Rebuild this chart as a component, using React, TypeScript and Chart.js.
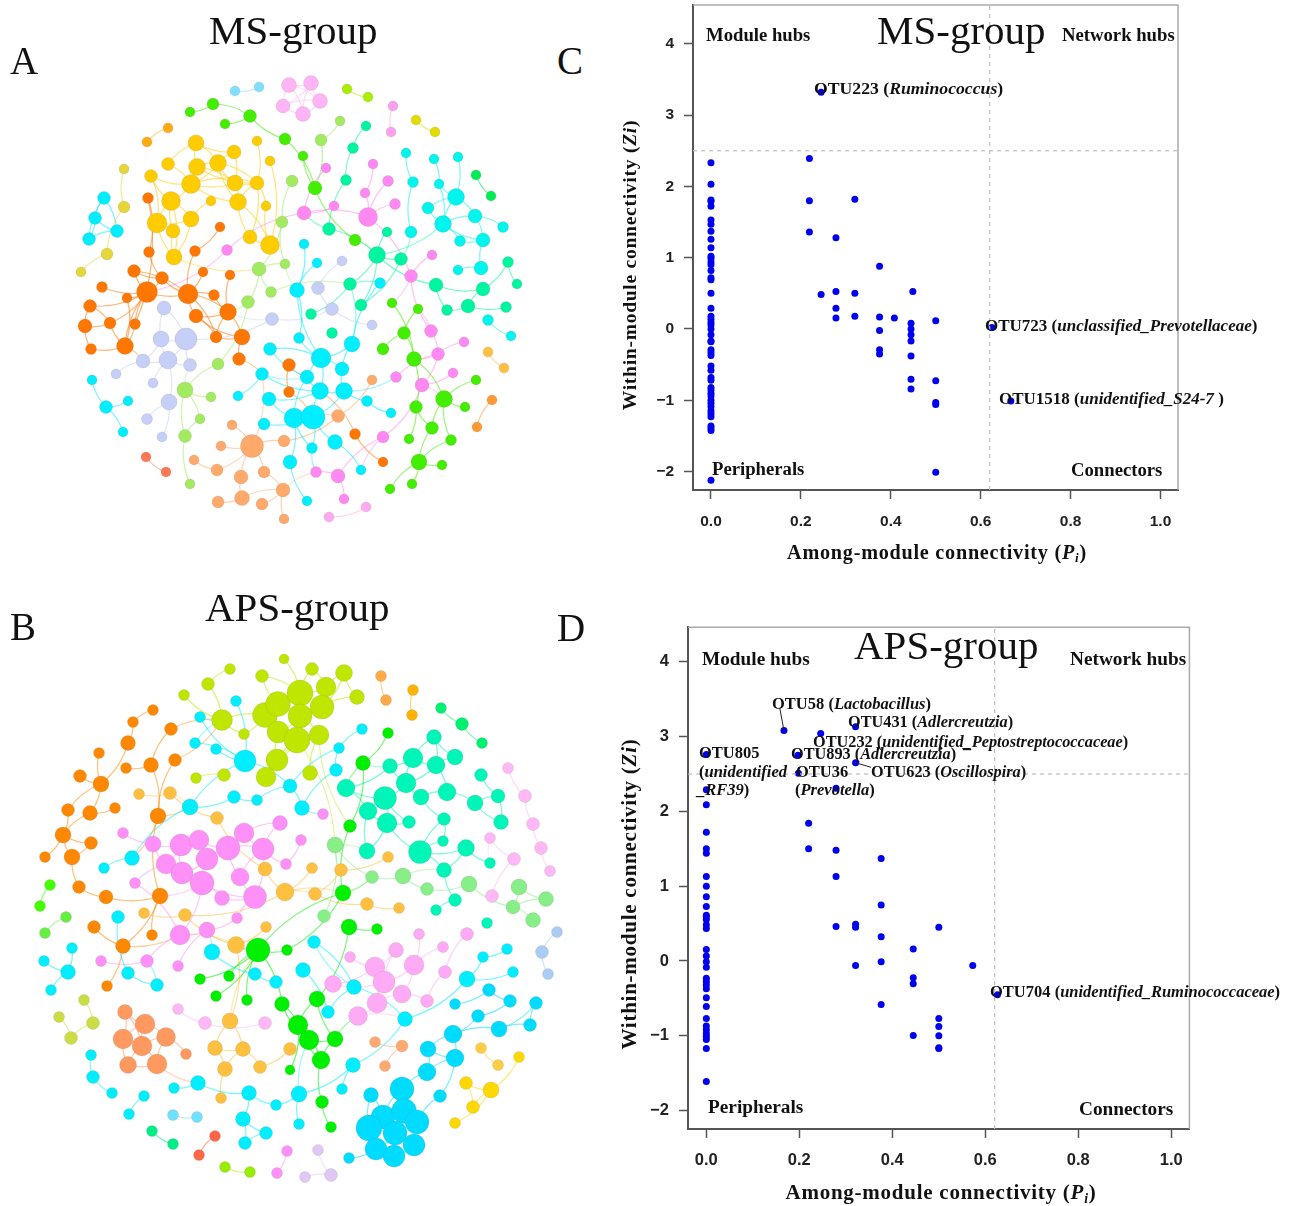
import React, { useEffect, useRef } from "react";
import { Chart, registerables } from "chart.js";
Chart.register(...registerables);

type Node = [number, number, number];
type Link = [number, number];

// ---------- Panel A (MS-group) network: layout x, layout y, node size ----------
const aGold: Node[] = [[196,143,8],[234,152,7],[257,141,5],[270,161,5],[218,163,8.5],[197,167,8.5],[168,164,6.5],[151,176,6.5],[191,184,9.5],[235,183,8],[257,183,7],[238,202,8.5],[171,201,9.5],[211,201,5],[266,206,5],[157,223,10],[191,219,8],[173,231,7],[250,237,7],[270,245,9.5],[174,257,8]];
const aGoldL: Link[] = [[0,1],[0,4],[0,5],[1,4],[1,9],[4,5],[4,8],[4,9],[4,10],[4,11],[5,8],[5,9],[8,9],[8,10],[8,11],[5,10],[6,0],[6,8],[7,8],[7,12],[7,15],[8,12],[12,15],[12,16],[12,17],[13,16],[15,16],[15,17],[15,20],[16,20],[17,20],[12,20],[9,11],[9,10],[10,11],[10,14],[10,18],[11,18],[11,19],[18,19],[14,19],[3,19],[2,10]];
const aOrange: Node[] = [[148,198,5.5],[220,227,5],[149,252,5.5],[195,251,5.5],[203,272,5],[230,275,5],[134,271,6.5],[162,278,6.5],[102,287,5.5],[147,292,10.5],[188,294,10],[214,295,5.5],[127,298,5],[90,306,6.5],[85,326,7],[110,323,6],[135,324,5.5],[91,349,5.5],[125,346,8.5],[196,316,7],[228,312,8.5],[216,337,6],[242,337,8],[239,359,6.5]];
const aOrangeL: Link[] = [[0,2],[0,16],[1,3],[2,7],[3,10],[6,9],[6,7],[6,10],[7,9],[7,10],[8,9],[12,9],[12,18],[9,18],[9,16],[9,10],[4,10],[11,10],[11,20],[5,20],[10,19],[10,20],[19,20],[19,21],[19,22],[20,22],[21,22],[21,10],[22,23],[13,14],[13,15],[14,15],[14,17],[17,18],[15,18],[16,18],[9,15],[20,21],[9,13]];
const aLav: Node[] = [[164,308,7],[161,339,8],[186,339,11],[143,361,7],[168,360,9],[190,365,6.5],[116,374,5],[153,383,5],[169,402,8],[147,419,5.5],[162,437,5],[272,319,6.5],[332,309,6.5],[372,325,5],[342,261,5],[318,288,6.5]];
const aLavL: Link[] = [[0,1],[0,2],[1,2],[1,3],[1,4],[2,4],[2,5],[3,4],[4,5],[3,6],[4,7],[4,8],[8,9],[8,10],[2,11],[11,12],[12,13],[14,15],[15,12]];
const aLime: Node[] = [[248,302,6.5],[259,269,7],[271,292,5.5],[292,181,6],[282,222,6],[285,264,5],[321,140,6],[340,121,5],[218,364,6],[185,390,8],[211,397,5],[200,419,5],[185,436,6.5],[190,484,5]];
const aLimeL: Link[] = [[0,1],[1,2],[1,4],[3,4],[4,5],[6,7],[8,9],[9,10],[9,11],[9,12],[11,12],[12,13],[0,8],[1,5]];
const aPeach: Node[] = [[252,446,11.5],[232,425,5],[221,446,5],[194,460,5],[217,470,6],[241,477,7],[264,472,6],[218,502,6],[242,498,7.5],[262,504,6],[283,490,7],[284,519,5],[284,441,6],[338,416,6.5],[372,380,5]];
const aPeachL: Link[] = [[0,1],[0,2],[0,4],[0,5],[0,6],[0,12],[3,4],[5,8],[7,8],[8,10],[9,10],[10,11],[6,10],[12,13],[13,14]];
const aCoral: Node[] = [[146,457,5],[166,472,5]];
const aCyan: Node[] = [[92,380,5],[106,407,6.5],[128,401,5],[123,432,5],[238,396,5],[262,374,6.5],[270,349,6.5],[269,399,7],[264,424,6],[299,338,5.5],[321,358,10],[352,344,8],[342,369,7],[307,377,7],[320,391,8.5],[344,391,8.5],[367,401,5.5],[391,413,5],[294,418,10],[313,417,12],[335,442,7.5],[312,448,5.5],[290,462,7],[307,501,5],[361,470,5],[297,290,7.5],[304,244,5],[317,263,5],[380,283,5.5]];
const aCyanL: Link[] = [[0,1],[1,2],[1,3],[4,5],[5,14],[6,10],[6,13],[9,10],[10,11],[10,12],[10,13],[10,14],[11,12],[12,15],[13,14],[13,18],[14,15],[14,19],[15,19],[15,16],[16,17],[18,19],[19,20],[19,21],[18,21],[18,22],[22,23],[20,24],[7,14],[7,18],[8,19],[25,26],[25,27],[25,9],[25,10],[28,11]];
const aCyanSmall: Node[] = [[104,198,6.5],[95,218,6.5],[117,231,6.5],[89,239,6.5]];
const aCyanSmallL: Link[] = [[0,1],[0,2],[1,2],[1,3],[2,3],[0,3]];
const aAqua: Node[] = [[406,153,5],[413,182,5.5],[411,232,6],[434,159,5],[458,157,5],[439,184,5],[456,197,8.5],[428,208,6],[475,216,7],[443,224,8.5],[503,227,5.5],[460,241,5.5],[483,240,7],[481,268,7],[458,270,5],[488,320,5.5],[511,336,5]];
const aAquaL: Link[] = [[0,1],[1,2],[3,5],[5,6],[4,6],[6,7],[6,8],[6,9],[8,9],[8,10],[9,11],[9,12],[5,9],[8,12],[11,12],[12,13],[13,14],[15,16],[9,7]];
const aTeal: Node[] = [[366,126,5],[353,148,5.5],[346,180,5.5],[329,229,6.5],[387,232,5],[377,255,8.5],[401,259,6.5],[350,284,6.5],[436,285,7],[483,289,7],[508,262,5.5],[517,284,5],[311,314,5.5],[361,305,6],[332,333,5.5],[447,310,5.5],[468,306,7],[506,307,5.5]];
const aTealL: Link[] = [[0,1],[1,2],[2,3],[3,5],[4,5],[5,6],[5,7],[5,8],[8,9],[9,10],[10,11],[9,16],[15,16],[16,17],[8,15],[5,13],[12,7],[13,6]];
const aPink: Node[] = [[227,250,5.5],[326,168,5],[373,164,5],[388,181,5.5],[365,193,5],[395,204,5.5],[304,213,7],[334,206,5],[368,217,9.5],[432,255,5],[411,276,6.5],[431,331,6.5],[464,342,5],[438,354,6.5],[396,377,5.5],[422,385,7],[453,373,5],[383,437,6],[338,476,7],[316,472,5.5],[344,499,5]];
const aPinkL: Link[] = [[0,6],[1,6],[6,7],[6,8],[2,4],[3,8],[4,8],[5,8],[8,10],[9,10],[10,11],[11,13],[12,13],[13,15],[13,14],[15,16],[15,17],[17,18],[18,19],[18,20]];
const aRose: Node[] = [[289,85,7.5],[311,83,7.5],[320,101,7.5],[283,106,7],[303,114,7.5]];
const aRoseL: Link[] = [[0,1],[0,2],[0,3],[0,4],[1,2],[1,3],[1,4],[2,3],[2,4],[3,4]];
const aMauve: Node[] = [[329,517,5],[366,507,5]];
const aOrchid: Node[] = [[393,106,5],[391,132,5]];
const aGreen: Node[] = [[190,112,5],[213,104,6],[225,124,5],[250,116,6.5],[285,139,6],[303,156,5],[315,188,7],[355,240,6]];
const aGreenL: Link[] = [[0,1],[1,3],[2,3],[3,4],[4,6],[5,6],[6,7]];
const aLeaf: Node[] = [[392,303,5],[418,309,5],[404,333,6.5],[383,349,6],[414,359,7.5],[476,380,5],[444,399,8.5],[465,407,5],[416,407,6.5],[432,428,6.5],[409,439,5],[451,440,5.5],[419,462,8],[442,465,5],[412,484,5],[390,489,5]];
const aLeafL: Link[] = [[0,4],[1,2],[2,3],[2,4],[4,8],[4,6],[5,6],[6,7],[6,9],[6,11],[8,9],[8,10],[9,12],[11,12],[12,13],[12,14],[12,15]];
const aBurnt: Node[] = [[289,365,6.5],[289,392,5.5],[355,434,5.5],[383,462,5]];
const aBurntL: Link[] = [[2,3],[0,1]];
const aOlive: Node[] = [[124,169,5],[124,207,6],[107,254,6],[81,272,5]];
const aSky: Node[] = [[235,91,5],[259,87,5]];
const aAmber: Node[] = [[168,128,5],[147,142,5]];
const aChart: Node[] = [[347,89,5],[368,97,5]];
const aYellow: Node[] = [[416,120,5],[435,132,5]];
const aSpring: Node[] = [[476,175,5],[491,196,5]];
const aSand: Node[] = [[488,352,5],[504,368,5]];
const aTan: Node[] = [[492,400,5],[477,427,5]];
const chain: Link[] = [[0,1],[1,2],[2,3]];
const pair: Link[] = [[0,1]];

// ---------- Panel B (APS-group) network ----------
const bLime: Node[] = [[230,669,5.5],[208,684,6.5],[184,695,5.5],[262,676,6.5],[284,659,5],[222,720,10.5],[244,734,5.5],[265,715,12.5],[278,704,12.5],[278,732,11],[277,760,11],[266,777,10],[224,775,6.5],[196,778,5.5],[312,669,6.5],[344,673,8.5],[357,697,7.5],[300,693,13],[326,687,10],[322,707,12],[300,716,12],[297,740,13],[319,735,10],[310,773,7.5]];
const bLimeL: Link[] = [[0,1],[1,5],[2,5],[3,17],[3,8],[5,7],[5,6],[6,7],[7,8],[7,9],[8,9],[8,17],[17,18],[17,19],[17,20],[18,19],[19,20],[20,21],[20,22],[21,22],[9,21],[9,10],[10,21],[10,11],[11,21],[14,17],[14,18],[15,18],[15,16],[16,19],[15,19],[22,23],[9,20],[8,20],[17,4],[12,13],[10,22]];
const bCyanA: Node[] = [[236,701,5.5],[200,717,5.5],[195,743,5.5],[216,749,5.5],[245,761,11],[234,797,6.5],[257,800,5.5],[190,807,8],[132,858,7.5],[104,868,5.5],[290,786,7],[362,729,5.5],[339,748,5.5],[336,770,6.5],[302,808,7.5]];
const bCyanAL: Link[] = [[0,4],[1,4],[2,4],[3,4],[4,7],[5,7],[5,6],[6,10],[10,14],[10,12],[11,12],[12,13],[13,14],[8,9],[7,8],[4,10]];
const bOrange: Node[] = [[153,710,5.5],[133,722,5.5],[171,729,6.5],[128,743,7.5],[99,753,5.5],[151,765,7.5],[175,760,6.5],[126,768,5.5],[80,776,6.5],[101,784,8],[68,810,6.5],[90,813,7.5],[115,808,5.5],[158,816,8],[63,835,8],[91,843,6.5],[45,857,5.5],[72,857,8],[79,887,6.5],[106,897,7],[160,896,8],[94,927,6.5],[123,946,7.5],[152,935,5.5],[107,986,5.5]];
const bOrangeL: Link[] = [[0,1],[1,3],[3,9],[4,9],[8,9],[9,10],[9,11],[10,14],[11,12],[11,14],[14,15],[14,16],[14,17],[15,17],[17,18],[18,19],[19,20],[2,5],[5,7],[5,13],[6,13],[13,20],[20,23],[21,22],[22,24],[20,22]];
const bGold: Node[] = [[139,794,5.5],[170,793,6.5],[217,818,6.5],[265,869,7],[285,892,9],[312,868,5.5],[341,870,6.5],[388,857,5.5],[315,894,6.5],[367,904,6.5],[399,908,5.5],[144,913,5.5],[185,915,6.5],[236,945,8.5],[266,927,5.5],[230,1021,8],[215,1048,7.5],[243,1049,7.5],[225,1069,7.5],[260,1067,6.5],[290,1049,6.5],[221,1098,5.5]];
const bGoldL: Link[] = [[0,1],[1,2],[3,4],[4,5],[4,8],[6,8],[6,7],[8,9],[9,10],[12,13],[13,14],[13,15],[15,16],[15,17],[16,17],[16,18],[17,18],[17,19],[18,21],[19,20],[11,12],[2,3],[4,12]];
const bPink: Node[] = [[123,833,5.5],[153,844,8],[181,845,11],[199,840,10],[166,864,10],[182,873,11],[207,859,11],[202,883,12],[228,848,12],[244,833,10],[263,849,11],[240,877,9],[255,897,11.5],[222,898,7.5],[280,823,7.5],[286,864,5.5],[135,883,5.5],[101,961,5.5],[147,961,6.5],[178,966,5.5],[180,935,10],[207,930,8],[237,918,5.5],[301,840,5.5],[323,814,5.5],[277,1173,5.5],[287,1151,5.5]];
const bPinkL: Link[] = [[0,1],[1,2],[1,4],[2,3],[2,4],[2,5],[3,6],[4,5],[5,6],[5,7],[6,7],[6,8],[3,8],[8,9],[8,10],[9,10],[8,11],[10,11],[10,12],[11,12],[7,12],[7,13],[13,12],[10,14],[10,15],[16,20],[17,18],[18,20],[20,21],[19,21],[21,22],[14,9],[23,15],[25,26],[20,7],[22,12],[16,4]];
const bRose: Node[] = [[419,934,5.5],[443,947,5.5],[467,934,6.5],[396,950,7.5],[350,957,5.5],[375,967,10],[414,965,10],[445,972,6.5],[384,982,11],[333,984,8.5],[402,994,9],[377,1003,10],[427,1001,6.5],[358,1016,9.5]];
const bRoseL: Link[] = [[0,6],[1,6],[2,7],[3,5],[3,8],[4,5],[5,8],[5,9],[6,8],[6,10],[5,11],[7,12],[8,10],[8,11],[10,11],[10,12],[11,13],[9,8]];
const bBlush: Node[] = [[508,768,5.5],[525,796,6.5],[533,824,6.5],[541,848,6.5],[550,871,5.5],[490,838,5.5],[514,859,6.5],[492,896,6.5],[178,1009,5.5],[205,1023,6.5],[265,1023,6.5]];
const bBlushL: Link[] = [[0,1],[1,2],[2,3],[3,4],[5,6],[6,7],[8,9],[9,10]];
const bTeal: Node[] = [[434,737,7.5],[455,757,8],[481,775,6.5],[413,758,10],[436,765,9],[390,766,7.5],[406,783,10],[346,788,9],[447,792,9],[421,797,8],[385,798,11.5],[498,796,7],[475,803,8],[368,811,9],[387,823,10],[409,822,6.5],[444,819,6.5],[501,822,7.5],[443,841,5.5],[466,848,8.5],[367,851,8],[420,852,11.5],[490,863,5.5],[444,870,7.5],[455,900,6.5],[436,910,5.5],[487,923,5.5]];
const bTealL: Link[] = [[0,1],[0,3],[0,4],[1,4],[3,4],[3,5],[4,6],[3,6],[5,6],[6,10],[6,9],[4,8],[8,9],[8,12],[2,11],[11,12],[11,17],[12,17],[7,10],[7,13],[10,13],[10,14],[13,14],[14,15],[10,15],[9,16],[16,18],[16,21],[18,21],[13,20],[14,20],[14,21],[19,21],[19,23],[21,23],[19,22],[23,24],[24,25],[5,7]];
const bSpring: Node[] = [[441,708,5.5],[462,724,6.5],[482,743,5.5]];
const bFern: Node[] = [[335,845,8],[372,877,6.5],[403,876,8],[427,889,6.5],[469,884,8],[519,887,8],[546,899,7.5],[513,907,7],[324,916,6.5],[533,920,7.5]];
const bFernL: Link[] = [[0,1],[1,2],[2,3],[3,4],[5,6],[5,7],[6,7],[7,9],[4,7],[0,8]];
const bGreen: Node[] = [[363,763,7.5],[388,733,5.5],[350,826,6.5],[343,893,8],[258,950,12],[287,950,5.5],[200,979,5.5],[229,976,5.5],[216,996,5.5],[247,1000,5.5],[282,1004,7.5],[349,927,8],[377,929,5.5],[317,999,8],[298,1025,10],[309,1040,10],[335,1039,8],[321,1060,9],[322,1102,6.5],[331,1127,5.5],[290,1070,5]];
const bGreenL: Link[] = [[0,1],[0,2],[2,3],[3,4],[3,5],[4,5],[4,6],[4,7],[4,8],[4,9],[4,10],[10,14],[11,12],[11,13],[13,14],[13,16],[14,15],[14,17],[15,16],[15,17],[16,17],[17,18],[18,19],[14,20],[10,15]];
const bCyanB: Node[] = [[72,948,5.5],[44,961,5.5],[68,972,7.5],[51,990,5.5],[118,917,6.5],[128,973,6.5],[157,985,6.5],[212,952,8],[255,974,6.5],[276,982,6.5],[91,1055,5.5],[93,1077,6.5],[112,1093,5.5],[144,1096,5.5],[129,1114,5.5]];
const bCyanBL: Link[] = [[0,2],[1,2],[2,3],[4,5],[5,6],[7,8],[8,9],[10,11],[11,12],[13,14]];
const bCyanC: Node[] = [[174,1088,5.5],[198,1083,7.5],[249,1093,7.5],[276,1105,5.5],[243,1119,7.5],[266,1133,6.5],[245,1143,6.5],[314,942,6.5],[303,970,7.5],[354,987,7.5],[328,1012,6.5],[405,1019,7.5],[467,979,8],[483,957,5.5],[507,949,5.5],[513,972,5.5],[353,1065,7.5],[342,1089,5.5],[299,1094,8],[299,1124,5.5]];
const bCyanCL: Link[] = [[0,1],[1,2],[2,3],[2,4],[4,5],[4,6],[5,6],[3,18],[16,18],[16,17],[16,11],[9,11],[11,12],[12,13],[13,14],[12,15],[9,10],[7,9],[8,10],[18,19]];
const bDeep: Node[] = [[489,990,6.5],[510,1001,6.5],[455,1004,5.5],[478,1016,6.5],[536,1003,6.5],[530,1025,6.5],[499,1029,8],[453,1034,9],[428,1049,8],[455,1058,9],[427,1072,9],[440,1096,6.5],[371,1095,7.5],[402,1089,12],[383,1117,12],[404,1111,12.5],[417,1122,12],[369,1128,13],[395,1133,12],[414,1145,11],[376,1149,11],[394,1156,11],[349,1158,5.5]];
const bDeepL: Link[] = [[0,1],[0,2],[1,3],[3,7],[4,6],[4,5],[5,6],[6,7],[7,8],[7,9],[8,9],[8,10],[9,10],[9,11],[11,16],[10,13],[12,14],[12,17],[13,14],[13,15],[14,15],[14,17],[14,18],[15,16],[15,18],[16,19],[17,20],[18,19],[18,20],[18,21],[20,21],[19,21],[20,22]];
const bCoral: Node[] = [[125,1012,7.5],[145,1024,10],[123,1039,10],[166,1037,9.5],[142,1046,10],[128,1065,8.5],[157,1064,10],[186,1054,5.5]];
const bCoralL: Link[] = [[0,1],[0,2],[0,4],[1,2],[1,3],[1,4],[2,4],[2,5],[3,4],[3,6],[4,5],[4,6],[5,6],[3,7]];
const bOlive: Node[] = [[84,1000,5.5],[59,1017,5.5],[93,1023,6.5],[71,1038,6.5]];
const bOliveL: Link[] = [[0,2],[2,3],[1,3]];
const bApple: Node[] = [[66,917,5.5],[45,933,5.5]];
const bNeon: Node[] = [[50,885,5.5],[40,906,5.5]];
const bPeach: Node[] = [[375,1042,5.5],[402,1046,6],[385,1066,5.5]];
const bPeachL: Link[] = [[0,1],[1,2]];
const bSand: Node[] = [[481,1048,5.5],[498,1065,5.5]];
const bYellow: Node[] = [[466,1083,6.5],[491,1090,8],[473,1107,6.5],[455,1123,5.5],[519,1057,5.5]];
const bYellowL: Link[] = [[0,1],[0,2],[1,2],[1,3],[1,4]];
const bTangerine: Node[] = [[381,676,5.5],[386,700,5.5]];
const bAmber: Node[] = [[413,690,5.5],[412,715,5.5]];
const bPeri: Node[] = [[557,932,5.5],[542,952,6.5],[548,974,5.5]];
const bLilac: Node[] = [[318,1150,5.5],[331,1175,6.5],[305,1177,5.5]];
const bLilacL: Link[] = [[0,1],[1,2]];
const bMint: Node[] = [[152,1131,5.5],[173,1144,5.5]];
const bRed: Node[] = [[215,1136,5.5],[199,1155,5.5]];
const bChart: Node[] = [[225,1167,5.5],[250,1172,5.5]];
const bSkyPair: Node[] = [[173,1115,5.5],[197,1117,5.5]];

// ---------- Panel C (MS-group) Zi-Pi ----------
const cP0 = [2.33,2.03,1.81,1.79,1.72,1.53,1.47,1.37,1.26,1.14,1.02,0.99,0.94,0.90,0.82,0.72,0.69,0.50,0.29,0.18,0.135,0.09,0.056,0,-0.08,-0.17,-0.18,-0.29,-0.33,-0.37,-0.52,-0.58,-0.68,-0.72,-0.82,-0.855,-0.90,-0.94,-1.0,-1.04,-1.09,-1.145,-1.19,-1.23,-1.36,-1.39,-1.425,-2.12];
const cPx = [0.219,0.245,0.219,0.32,0.219,0.278,0.375,0.245,0.278,0.32,0.449,0.278,0.278,0.32,0.375,0.408,0.375,0.375,0.375,0.445,0.445,0.445,0.445,0.445,0.445,0.445,0.5,0.5,0.5,0.5,0.5,0.625,0.667];
const cZy = [2.39,3.32,1.80,1.82,1.36,1.28,0.88,0.485,0.527,0.50,0.527,0.29,0.155,0.18,0.17,0.155,-0.02,-0.29,-0.35,0.08,0,-0.08,-0.17,-0.38,-0.705,-0.84,0.117,-0.725,-1.03,-1.06,-2.01,0.02,-1.01];
// ---------- Panel D (APS-group) Zi-Pi ----------
const dP0 = [2.76,2.29,2.09,1.72,1.50,1.44,1.13,1.0,0.86,0.73,0.61,0.59,0.555,0.485,0.435,0.155,0.067,-0.01,-0.085,-0.23,-0.275,-0.32,-0.37,-0.49,-0.61,-0.77,-0.87,-0.92,-0.97,-1.01,-1.05,-1.17,-1.61];
const dPx = [0.167,0.246,0.321,0.197,0.198,0.321,0.279,0.22,0.22,0.279,0.279,0.376,0.376,0.279,0.321,0.321,0.376,0.445,0.5,0.321,0.376,0.573,0.445,0.445,0.376,0.626,0.5,0.5,0.5,0.445,0.5,0.5];
const dZy = [3.08,3.04,3.13,2.75,2.51,2.65,2.31,1.84,1.50,1.48,1.13,1.37,0.75,0.46,0.49,0.45,0.325,0.16,0.45,-0.06,-0.01,-0.06,-0.225,-0.305,-0.58,-0.45,-0.77,-0.875,-1.0,-0.995,-1.16,-1.17];
const piThreshold = 0.62;
const ziThreshold = 2.5;
const leader58 = [[0.167,3.08],[0.158,3.38]];
const leader623 = [[0.321,2.65],[0.354,2.59]];
const xTickStep = 0.2;
const yTickStep = 1;

type Mod = { id: string; nodes: Node[]; links: Link[]; color: string };
type Cross = [string, number, string, number];

const modulesA: Mod[] = [
  { id: "gold", nodes: aGold, links: aGoldL, color: "#ffcc00" },
  { id: "orange", nodes: aOrange, links: aOrangeL, color: "#ff7700" },
  { id: "lav", nodes: aLav, links: aLavL, color: "#c5cff7" },
  { id: "lime", nodes: aLime, links: aLimeL, color: "#a2ea60" },
  { id: "peach", nodes: aPeach, links: aPeachL, color: "#ffaa6a" },
  { id: "coral", nodes: aCoral, links: pair, color: "#ff7755" },
  { id: "cyan", nodes: aCyan, links: aCyanL, color: "#00eeff" },
  { id: "cs", nodes: aCyanSmall, links: aCyanSmallL, color: "#00eeff" },
  { id: "aqua", nodes: aAqua, links: aAquaL, color: "#00f5ee" },
  { id: "teal", nodes: aTeal, links: aTealL, color: "#00f5a0" },
  { id: "pink", nodes: aPink, links: aPinkL, color: "#ff88f2" },
  { id: "rose", nodes: aRose, links: aRoseL, color: "#ffb4f6" },
  { id: "mauve", nodes: aMauve, links: pair, color: "#ffaaf0" },
  { id: "orchid", nodes: aOrchid, links: pair, color: "#ffa0ee" },
  { id: "green", nodes: aGreen, links: aGreenL, color: "#44ee00" },
  { id: "leaf", nodes: aLeaf, links: aLeafL, color: "#44ee00" },
  { id: "burnt", nodes: aBurnt, links: aBurntL, color: "#ff7700" },
  { id: "olive", nodes: aOlive, links: chain, color: "#e6d63a" },
  { id: "sky", nodes: aSky, links: pair, color: "#80dfff" },
  { id: "amber", nodes: aAmber, links: pair, color: "#ffaa11" },
  { id: "chart", nodes: aChart, links: pair, color: "#aaee00" },
  { id: "yellow", nodes: aYellow, links: pair, color: "#e2dc00" },
  { id: "spring", nodes: aSpring, links: pair, color: "#00ee55" },
  { id: "sand", nodes: aSand, links: pair, color: "#ffc040" },
  { id: "tan", nodes: aTan, links: pair, color: "#ff9933" },
];
const crossA: Cross[] = [
  ["pink",0,"orange",9],["gold",20,"lime",1],["lime",0,"orange",20],["lav",5,"lime",9],["orange",18,"lav",3],
  ["lime",5,"cyan",25],["teal",3,"pink",6],["teal",5,"aqua",9],["teal",7,"cyan",28],["teal",6,"aqua",2],
  ["green",7,"teal",5],["green",6,"lime",6],["teal",7,"cyan",11],["burnt",0,"cyan",13],["burnt",1,"cyan",19],
  ["burnt",2,"cyan",14],["orange",23,"cyan",5],["peach",13,"cyan",19],["peach",10,"pink",19],["peach",0,"cyan",5],
  ["pink",15,"leaf",6],["pink",11,"leaf",1],["pink",13,"leaf",4],["pink",17,"cyan",24],["pink",10,"leaf",0],
  ["cyan",21,"pink",19],["lime",2,"teal",7],["cyan",15,"pink",14],["lav",11,"orange",20],["cyan",5,"cyan",13],
];
const modulesB: Mod[] = [
  { id: "lime", nodes: bLime, links: bLimeL, color: "#bfe600" },
  { id: "cyanA", nodes: bCyanA, links: bCyanAL, color: "#00eeff" },
  { id: "orange", nodes: bOrange, links: bOrangeL, color: "#ff8800" },
  { id: "gold", nodes: bGold, links: bGoldL, color: "#ffc040" },
  { id: "pink", nodes: bPink, links: bPinkL, color: "#ff90f8" },
  { id: "rose", nodes: bRose, links: bRoseL, color: "#ffaaf5" },
  { id: "blush", nodes: bBlush, links: bBlushL, color: "#ffb8f6" },
  { id: "teal", nodes: bTeal, links: bTealL, color: "#00f5b8" },
  { id: "spring", nodes: bSpring, links: chain.slice(0, 2), color: "#00f070" },
  { id: "fern", nodes: bFern, links: bFernL, color: "#88ee88" },
  { id: "green", nodes: bGreen, links: bGreenL, color: "#00f000" },
  { id: "cyanB", nodes: bCyanB, links: bCyanBL, color: "#00eeff" },
  { id: "cyanC", nodes: bCyanC, links: bCyanCL, color: "#00eeff" },
  { id: "deep", nodes: bDeep, links: bDeepL, color: "#00dcff" },
  { id: "coral", nodes: bCoral, links: bCoralL, color: "#ff9960" },
  { id: "olive", nodes: bOlive, links: bOliveL, color: "#ccdd44" },
  { id: "apple", nodes: bApple, links: pair, color: "#66ee44" },
  { id: "neon", nodes: bNeon, links: pair, color: "#44ff00" },
  { id: "peach", nodes: bPeach, links: bPeachL, color: "#ffaa70" },
  { id: "sand", nodes: bSand, links: pair, color: "#ffcc44" },
  { id: "yellow", nodes: bYellow, links: bYellowL, color: "#ffd800" },
  { id: "tang", nodes: bTangerine, links: pair, color: "#ffaa44" },
  { id: "amber", nodes: bAmber, links: pair, color: "#ffb300" },
  { id: "peri", nodes: bPeri, links: chain.slice(0, 2), color: "#aaccf5" },
  { id: "lilac", nodes: bLilac, links: bLilacL, color: "#e0c8f5" },
  { id: "mint", nodes: bMint, links: pair, color: "#00ee88" },
  { id: "red", nodes: bRed, links: pair, color: "#ff6644" },
  { id: "chart", nodes: bChart, links: pair, color: "#99ee00" },
  { id: "skyp", nodes: bSkyPair, links: pair, color: "#70e0ff" },
];
const crossB: Cross[] = [
  ["orange",2,"lime",5],["orange",6,"lime",5],["gold",1,"cyanA",7],["orange",13,"cyanA",7],["orange",13,"cyanA",8],
  ["cyanA",1,"lime",5],["cyanA",2,"lime",5],["green",0,"teal",7],["teal",5,"green",0],["lime",22,"green",2],
  ["lime",21,"fern",0],["fern",0,"gold",6],["fern",0,"teal",20],["green",3,"fern",1],["fern",2,"teal",23],
  ["coral",6,"cyanC",1],["pink",7,"orange",20],["orange",22,"pink",20],["green",4,"gold",13],["gold",13,"pink",20],
  ["rose",13,"cyanC",11],["blush",5,"teal",22],["gold",4,"green",3],["cyanC",7,"cyanC",9],["green",16,"rose",13],
  ["cyanA",14,"pink",24],["gold",15,"green",4],["cyanB",7,"pink",21],["cyanC",18,"green",15],["cyanB",6,"pink",18],
];

const serif = "'Liberation Serif','Times New Roman',serif";
const sans = "'Liberation Sans',Arial,sans-serif";

function makeLinkPlugin(mods: Mod[], cross: Cross[]) {
  return {
    id: "curvedLinks",
    beforeDatasetsDraw(chart: any) {
      const { ctx, scales } = chart;
      const px = (n: Node) => [scales.x.getPixelForValue(n[0]), scales.y.getPixelForValue(n[1])];
      const curve = (a: Node, b: Node, sign: number, color: string) => {
        const [x1, y1] = px(a);
        const [x2, y2] = px(b);
        const mx = (x1 + x2) / 2 - (y2 - y1) * 0.16 * sign;
        const my = (y1 + y2) / 2 + (x2 - x1) * 0.16 * sign;
        ctx.strokeStyle = color;
        ctx.beginPath();
        ctx.moveTo(x1, y1);
        ctx.quadraticCurveTo(mx, my, x2, y2);
        ctx.stroke();
      };
      ctx.save();
      ctx.lineWidth = 1.2;
      const byId: Record<string, Mod> = {};
      mods.forEach((m) => (byId[m.id] = m));
      cross.forEach(([a, i, b, j], k) => {
        if (byId[a].nodes[i] && byId[b].nodes[j]) curve(byId[a].nodes[i], byId[b].nodes[j], k % 2 ? 1 : -1, byId[a].color + "66");
      });
      mods.forEach((m) =>
        m.links.forEach(([i, j]) => {
          if (m.nodes[i] && m.nodes[j]) curve(m.nodes[i], m.nodes[j], (i + j) % 2 ? 1 : -1, m.color + "88");
        })
      );
      ctx.restore();
    },
  };
}

function networkConfig(mods: Mod[], cross: Cross[], w: number, top: number, h: number): any {
  return {
    type: "bubble",
    data: {
      datasets: mods.map((m) => ({
        label: m.id,
        data: m.nodes.map(([x, y, r]) => ({ x, y, r })),
        backgroundColor: m.color,
        borderColor: "rgba(120,120,120,0.22)",
        borderWidth: 0.7,
        clip: false,
      })),
    },
    options: {
      animation: false,
      responsive: false,
      events: [],
      layout: { padding: 0, autoPadding: false },
      plugins: { legend: { display: false }, tooltip: { enabled: false } },
      scales: {
        x: { type: "linear", display: false, min: 0, max: w },
        y: { type: "linear", display: false, min: top, max: top + h, reverse: true },
      },
    },
    plugins: [makeLinkPlugin(mods, cross)],
  };
}

const framePlugin = {
  id: "frame",
  afterDatasetsDraw(chart: any) {
    const { ctx, chartArea: a } = chart;
    ctx.save();
    ctx.strokeStyle = "#aaaaaa";
    ctx.lineWidth = 1.5;
    ctx.beginPath();
    ctx.moveTo(a.left, a.top);
    ctx.lineTo(a.right, a.top);
    ctx.lineTo(a.right, a.bottom);
    ctx.stroke();
    ctx.restore();
  },
};

function scatterConfig(p0: number[], px: number[], zy: number[], b: { xMin: number; xMax: number; yMin: number; yMax: number; pad: any; yW: number; xH: number; fontSize: number }, leaders: number[][][]): any {
  const points = [...p0.map((y) => ({ x: 0, y })), ...px.map((x, i) => ({ x, y: zy[i] }))];
  const guide = (d: any[]) => ({ type: "scatter", data: d, showLine: true, borderColor: "#bdbdbd", borderWidth: 1.2, borderDash: [4, 4], pointRadius: 0 });
  const axis = {
    border: { color: "#555", width: 2 },
    grid: { drawOnChartArea: false, drawTicks: true, tickLength: 9, tickColor: "#555", tickWidth: 1.5 },
  };
  return {
    type: "scatter",
    data: {
      datasets: [
        guide([{ x: piThreshold, y: b.yMin }, { x: piThreshold, y: b.yMax }]),
        guide([{ x: b.xMin, y: ziThreshold }, { x: b.xMax, y: ziThreshold }]),
        ...leaders.map((l) => ({ data: l.map(([x, y]) => ({ x, y })), showLine: true, borderColor: "#222", borderWidth: 1, pointRadius: 0 })),
        { label: "OTU", data: points, backgroundColor: "#0000ee", borderWidth: 0, pointRadius: 3.5 },
      ],
    },
    options: {
      animation: false,
      responsive: false,
      events: [],
      layout: { padding: b.pad, autoPadding: false },
      plugins: { legend: { display: false }, tooltip: { enabled: false } },
      scales: {
        x: {
          ...axis,
          type: "linear",
          min: b.xMin,
          max: b.xMax,
          afterFit: (s: any) => { s.height = b.xH; },
          ticks: { stepSize: xTickStep, includeBounds: false, autoSkip: false, maxRotation: 0, padding: 13, color: "#222", font: { family: sans, size: b.fontSize, weight: "bold" }, callback: (v: number) => Number(v).toFixed(1) },
        },
        y: {
          ...axis,
          type: "linear",
          min: b.yMin,
          max: b.yMax,
          afterFit: (s: any) => { s.width = b.yW; },
          ticks: { stepSize: yTickStep, includeBounds: false, autoSkip: false, padding: 10, color: "#222", font: { family: sans, size: b.fontSize, weight: "bold" }, callback: (v: number) => (v < 0 ? "\u2212" + Math.abs(v) : String(v)) },
        },
      },
    },
    plugins: [framePlugin],
  };
}

type Part = [string, boolean];
type Txt = { x: number; y: number; size: number; parts: Part[]; bold?: boolean };
const t = (x: number, y: number, size: number, s: string, it = ""): Txt => ({ x, y, size, bold: true, parts: it ? [[s + " (", false], [it, true], [")", false]] : [[s, false]] });

const plainLabels: Txt[] = [
  { x: 10, y: 60, size: 39, parts: [["A", false]] },
  { x: 10, y: 626, size: 39, parts: [["B", false]] },
  { x: 557, y: 60, size: 39, parts: [["C", false]] },
  { x: 557, y: 627, size: 39, parts: [["D", false]] },
  { x: 209, y: 30, size: 41, parts: [["MS-group", false]] },
  { x: 205, y: 607, size: 41, parts: [["APS-group", false]] },
  { x: 877, y: 30, size: 41, parts: [["MS-group", false]] },
  { x: 854, y: 645, size: 41, parts: [["APS-group", false]] },
];
const boldLabels: Txt[] = [
  t(706, 35, 18.7, "Module hubs"),
  t(1062, 35, 18.7, "Network hubs"),
  t(712, 469, 18.7, "Peripherals"),
  t(1071, 470, 18.7, "Connectors"),
  t(814, 89, 17.7, "OTU223", "Ruminococcus"),
  { x: 985, y: 325, size: 17, bold: true, parts: [["OTU723 (", false], ["unclassified", true], ["_Prevotellaceae", true], [")", false]] },
  { x: 999, y: 398, size: 17, bold: true, parts: [["OTU1518 (", false], ["unidentified_S24-7 ", true], [")", false]] },
  t(702, 659, 19.3, "Module hubs"),
  t(1070, 659, 19.3, "Network hubs"),
  t(708, 1107, 19.3, "Peripherals"),
  t(1079, 1109, 19.3, "Connectors"),
  t(772, 704, 16.5, "OTU58", "Lactobacillus"),
  t(848, 722, 16.3, "OTU431", "Adlercreutzia"),
  t(813, 742, 16.3, "OTU232", "unidentified_Peptostreptococcaceae"),
  t(791, 754, 16.3, "OTU893", "Adlercreutzia"),
  t(963, 743, 16.3, "_"),
  t(699, 753, 16.5, "OTU805"),
  { x: 699, y: 772, size: 16.5, bold: true, parts: [["(", false], ["unidentified", true]] },
  { x: 697, y: 790, size: 16.5, bold: true, parts: [["_RF39", true], [")", false]] },
  t(796, 772, 16.5, "OTU36"),
  { x: 795, y: 790, size: 16.5, bold: true, parts: [["(", false], ["Prevotella", true], [")", false]] },
  t(871, 772, 16.3, "OTU623", "Oscillospira"),
  t(990, 992, 16.5, "OTU704", "unidentified_Ruminococcaceae"),
];

const Label = ({ l }: { l: Txt }) => (
  <div style={{ position: "absolute", left: l.x, top: l.y, transform: "translateY(-50%)", whiteSpace: "nowrap", fontFamily: serif, fontSize: l.size, fontWeight: l.bold ? 700 : 400, lineHeight: 1, color: "#111" }}>
    {l.parts.map(([s, it], i) => (
      <span key={i} style={{ fontStyle: it ? "italic" : "normal" }}>{s}</span>
    ))}
  </div>
);

const AxisTitle = ({ x, y, size, rotate, letter, sub }: { x: number; y: number; size: number; rotate?: boolean; letter: string; sub: boolean }) => (
  <div style={{ position: "absolute", left: x, top: y, transform: `translate(-50%,-50%)${rotate ? " rotate(-90deg)" : ""}`, whiteSpace: "nowrap", fontFamily: serif, fontSize: size, fontWeight: 700, letterSpacing: 0.75, lineHeight: 1, color: "#111" }}>
    {rotate ? "Within-module connectivity (" : "Among-module connectivity ("}
    <i>{letter}</i>
    {sub ? <i style={{ fontSize: size * 0.65, verticalAlign: "-0.25em" }}>i</i> : <i>i</i>}
    {")"}
  </div>
);

export default function App() {
  const a = useRef<HTMLCanvasElement>(null);
  const b = useRef<HTMLCanvasElement>(null);
  const c = useRef<HTMLCanvasElement>(null);
  const d = useRef<HTMLCanvasElement>(null);
  useEffect(() => {
    const charts = [
      new Chart(a.current!, networkConfig(modulesA, crossA, 550, 0, 560)),
      new Chart(b.current!, networkConfig(modulesB, crossB, 590, 590, 616)),
      new Chart(c.current!, scatterConfig(cP0, cPx, cZy, { xMin: -0.04, xMax: 1.0389, yMin: -2.258, yMax: 4.544, pad: { left: 0, right: 113, top: 35, bottom: 0 }, yW: 60, xH: 80, fontSize: 15.5 }, [])),
      new Chart(d.current!, scatterConfig(dP0, dPx, dZy, { xMin: -0.0394, xMax: 1.0389, yMin: -2.246, yMax: 4.461, pad: { left: 0, right: 101.6, top: 37.3, bottom: 0 }, yW: 60, xH: 77, fontSize: 16.5 }, [leader58, leader623])),
    ];
    return () => charts.forEach((ch) => ch.destroy());
  }, []);
  const cv = (left: number, top: number): React.CSSProperties => ({ position: "absolute", left, top, filter: "blur(0.35px)" });
  return (
    <div style={{ position: "absolute", left: 0, top: 0, width: 1291, height: 1206, overflow: "hidden", background: "#fff" }}>
      <canvas ref={a} width={550} height={560} style={cv(0, 0)} />
      <canvas ref={b} width={590} height={616} style={cv(0, 590)} />
      <canvas ref={c} width={658} height={600} style={cv(633, -30)} />
      <canvas ref={d} width={663} height={616} style={cv(628, 590)} />
      {plainLabels.map((l, i) => <Label key={"p" + i} l={l} />)}
      {boldLabels.map((l, i) => <Label key={"b" + i} l={l} />)}
      <AxisTitle x={937} y={553} size={20.2} letter="P" sub />
      <AxisTitle x={941} y={1194} size={21} letter="P" sub />
      <AxisTitle x={630} y={265} size={19.5} rotate letter="Z" sub={false} />
      <AxisTitle x={629} y={894} size={21} rotate letter="Z" sub={false} />
    </div>
  );
}
